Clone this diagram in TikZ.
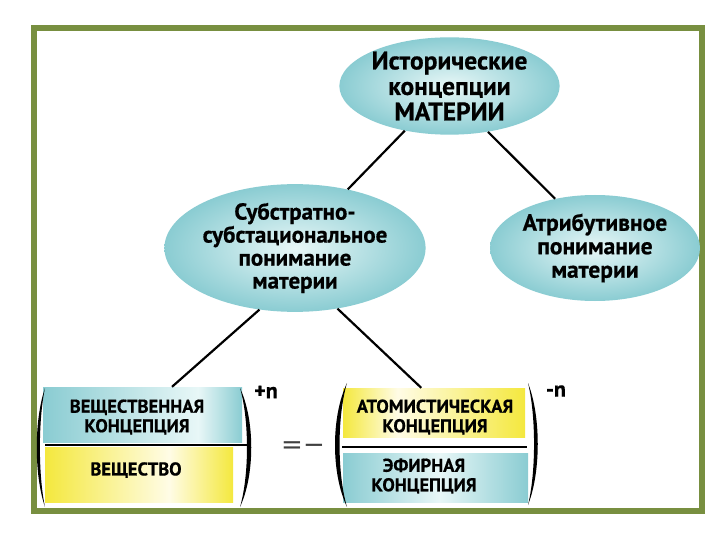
\documentclass[tikz,border=0pt]{standalone}
\usepackage{fontspec}
\setmainfont{PT Sans}[BoldFeatures={FakeBold=0.6}]
\newfontfamily\symf{DejaVu Sans}
\usetikzlibrary{shapes.geometric,calc}
\definecolor{frameg}{RGB}{120,143,64}
\definecolor{cyD}{RGB}{138,204,210}
\definecolor{cyL}{RGB}{232,247,247}
\definecolor{yeD}{RGB}{244,232,62}
\definecolor{yeL}{RGB}{255,252,230}
\pgfdeclarehorizontalshading{cyA}{100bp}{color(0bp)=(cyD); color(25bp)=(cyD); color(64bp)=(cyL); color(75bp)=(cyD); color(100bp)=(cyD)}
\pgfdeclarehorizontalshading{cyB}{100bp}{color(0bp)=(cyD); color(25bp)=(cyD); color(51bp)=(cyL); color(75bp)=(cyD); color(100bp)=(cyD)}
\pgfdeclarehorizontalshading{yeA}{100bp}{color(0bp)=(yeD); color(25bp)=(yeD); color(58bp)=(yeL); color(75bp)=(yeD); color(100bp)=(yeD)}
\pgfdeclarehorizontalshading{yeB}{100bp}{color(0bp)=(yeD); color(25bp)=(yeD); color(40bp)=(yeL); color(75bp)=(yeD); color(100bp)=(yeD)}
\newcommand\drawbrk[4]{\fill (#1,#2) .. controls ({#1+(#4)},{#2+0.27*(#3-#2)}) and ({#1+(#4)},{#2+0.73*(#3-#2)}) .. (#1,#3) .. controls ({#1+0.62*(#4)},{#2+0.73*(#3-#2)}) and ({#1+0.62*(#4)},{#2+0.27*(#3-#2)}) .. (#1,#2) -- cycle;}
\tikzset{
  ell/.style={ellipse, draw=none, inner color=cyL, outer color=cyD, inner sep=0pt, align=center},
  box/.style={rectangle, draw=none, inner sep=0pt},
  lab/.style={align=center, inner sep=0pt, font=\bfseries\fontsize{18.5}{19.5}\selectfont},
  conn/.style={draw=black, line width=2.2pt},
  bar/.style={draw=black, line width=2.5pt},
  expo/.style={inner sep=0pt, font=\bfseries\fontsize{22}{22}\selectfont}
}
\begin{document}
\begin{tikzpicture}[x=1pt,y=-1pt]
\useasboundingbox (0,0) rectangle (720,540);
\fill[white] (0,0) rectangle (720,540);
\draw[frameg, line width=6pt] (34,28) rectangle (702,511);

\node[ell, minimum width=215pt, minimum height=96pt, font=\bfseries\fontsize{25.5}{25.5}\selectfont]
  (top) at (449.5,86) {Исторические\\концепции\\МАТЕРИИ};
\node[ell, minimum width=214pt, minimum height=100pt, font=\bfseries\fontsize{23}{23}\selectfont] (mid) at (295,248)
  {Субстратно-\\субстациональное\\понимание\\материи};
\node[ell, minimum width=210pt, minimum height=106pt, font=\bfseries\fontsize{23.5}{23.5}\selectfont] (right) at (595,248)
  {Атрибутивное\\понимание\\материи};

\node[box, shading=cyA, minimum width=199pt, minimum height=55pt] (bA) at (142.5,414.5) {};
\node[box, shading=yeA, minimum width=188pt, minimum height=55pt] (bB) at (139,474.5) {};
\node[box, shading=yeB, minimum width=182pt, minimum height=49pt] (bC) at (434,412.5) {};
\node[box, shading=cyB, minimum width=185pt, minimum height=49pt] (bD) at (435.5,477.5) {};

\node[lab] (tA) at (137,417) {ВЕЩЕСТВЕННАЯ\\КОНЦЕПЦИЯ};
\node[lab] (tB) at (136,470) {ВЕЩЕСТВО};
\node[lab] (tC) at (435,417) {АТОМИСТИЧЕСКАЯ\\КОНЦЕПЦИЯ};
\node[lab] (tD) at (424,476) {ЭФИРНАЯ\\КОНЦЕПЦИЯ};

\draw[bar] (45,445) -- (247,445);
\draw[bar] (342,447) -- (527,447);

\drawbrk{45}{388}{507}{-11}
\drawbrk{240}{388}{507}{15}
\drawbrk{347}{383}{507}{-16}
\drawbrk{528}{383}{505}{13}

\node[expo] (pn) at (266,392) {+n};
\node[expo] (mn) at (556,391) {-n};
\node[inner sep=0pt, text=black!75, font=\symf\fontsize{26}{26}\selectfont] (eq) at (303,448) {=−};

\draw[conn] (top.225) -- (mid.48);
\draw[conn] (top.310) -- (right.129);
\draw[conn] (mid.240) -- ($(bA.north west)!0.648!(bA.north east)$);
\draw[conn] (mid.305) -- ($(bC.north west)!0.43!(bC.north east)$);
\end{tikzpicture}
\end{document}
